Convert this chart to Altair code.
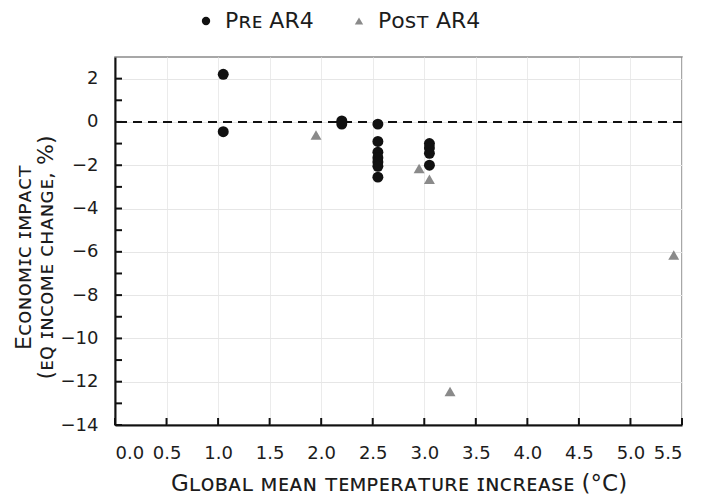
import altair as alt
import pandas as pd

# Studies published before AR4 (black circles)
pre_temp = [1.05, 1.05, 2.2, 2.2, 2.55, 2.55, 2.55, 2.55, 2.55, 2.55, 2.55, 3.05, 3.05, 3.05, 3.05]
pre_impact = [2.2, -0.45, 0.05, -0.1, -0.1, -0.9, -1.4, -1.65, -1.85, -2.05, -2.55, -1.0, -1.2, -1.45, -2.0]

# Studies published after AR4 (grey triangles)
post_temp = [1.95, 2.95, 3.05, 3.25, 5.42]
post_impact = [-0.6, -2.15, -2.65, -12.45, -6.15]

series_names = ["Pʀᴇ AR4", "Pᴏsᴛ AR4"]
x_ticks = [i * 0.5 for i in range(12)]
y_ticks = list(range(-14, 4))

df = pd.DataFrame(
    {
        "temp": pre_temp + post_temp,
        "impact": pre_impact + post_impact,
        "series": [series_names[0]] * len(pre_temp) + [series_names[1]] * len(post_temp),
    }
)

FONT = "DejaVu Sans"
INK = "#1c1c1c"
TICK_LEN = 7

x_axis = alt.Axis(
    values=x_ticks,
    format=".1f",
    title="Gʟᴏʙᴀʟ ᴍᴇᴀɴ ᴛᴇᴍᴘᴇʀᴀᴛᴜʀᴇ ɪɴᴄʀᴇᴀsᴇ (°C)",
    titleFontSize=23,
    titlePadding=10,
    labelFontSize=18,
    labelPadding=19,
    ticks=False,
    grid=True,
    gridColor="#ebebeb",
)

y_axis = alt.Axis(
    values=y_ticks,
    labelExpr="datum.value % 2 === 0 && datum.value < 3 ? datum.label : ''",
    title=["Eᴄᴏɴᴏᴍɪᴄ ɪᴍᴘᴀᴄᴛ", "(ᴇꞯ ɪɴᴄᴏᴍᴇ ᴄʜᴀɴɢᴇ, %)"],
    titleFontSize=22,
    titleX=-92,
    titleY=200,
    titleAngle=-90,
    titleBaseline="middle",
    titleLineHeight=22,
    labelFontSize=18,
    labelPadding=17,
    ticks=False,
    grid=True,
    gridColor="#e6e6e6",
    gridOpacity={"condition": {"test": "datum.value % 2 === 0", "value": 1}, "value": 0},
)

legend = alt.Legend(
    title=None,
    orient="none",
    legendX=80,
    legendY=-47,
    direction="horizontal",
    labelFontSize=22,
    symbolSize=70,
    symbolStrokeWidth=0,
    columnPadding=34,
    labelOffset=8,
)

x_scale = alt.Scale(domain=[0, 5.5], nice=False)
y_scale = alt.Scale(domain=[-14, 3], nice=False)

points = (
    alt.Chart(df)
    .mark_point(filled=True, opacity=1, size=120)
    .encode(
        x=alt.X("temp:Q", scale=x_scale, axis=x_axis),
        y=alt.Y("impact:Q", scale=y_scale, axis=y_axis),
        shape=alt.Shape(
            "series:N",
            scale=alt.Scale(domain=series_names, range=["circle", "triangle-up"]),
            legend=legend,
        ),
        color=alt.Color(
            "series:N",
            scale=alt.Scale(domain=series_names, range=["#111111", "#8a8a8a"]),
            legend=legend,
        ),
    )
)

zero_line = (
    alt.Chart(pd.DataFrame({"impact": [0]}))
    .mark_rule(color="#111111", strokeWidth=2, strokeDash=[9, 6])
    .encode(y="impact:Q")
)

# Inward-pointing tick marks along the left and bottom axes
y_tick_marks = (
    alt.Chart(pd.DataFrame({"impact": y_ticks[:-1]}))
    .mark_rule(color="#111111", strokeWidth=2)
    .encode(y="impact:Q", x=alt.value(0), x2=alt.value(TICK_LEN))
)
x_tick_marks = (
    alt.Chart(pd.DataFrame({"temp": x_ticks}))
    .mark_rule(color="#111111", strokeWidth=2)
    .encode(x="temp:Q", y=alt.value(368), y2=alt.value(368 - TICK_LEN))
)

chart = (
    alt.layer(zero_line, y_tick_marks, x_tick_marks, points)
    .properties(
        width=567,
        height=368,
        autosize=alt.AutoSizeParams(type="none"),
        padding={"left": 115, "top": 57, "right": 23, "bottom": 70},
        background="white",
    )
    .configure(font=FONT)
    .configure_view(stroke="#8a8a8a", strokeWidth=1.5)
    .configure_axis(
        domainColor="#111111",
        domainWidth=2,
        labelColor=INK,
        titleColor=INK,
        labelFont=FONT,
        titleFont=FONT,
        titleFontWeight="normal",
    )
    .configure_legend(labelColor=INK, labelFont=FONT)
)

chart.save("out.html", embed_options={"renderer": "svg", "actions": False})
